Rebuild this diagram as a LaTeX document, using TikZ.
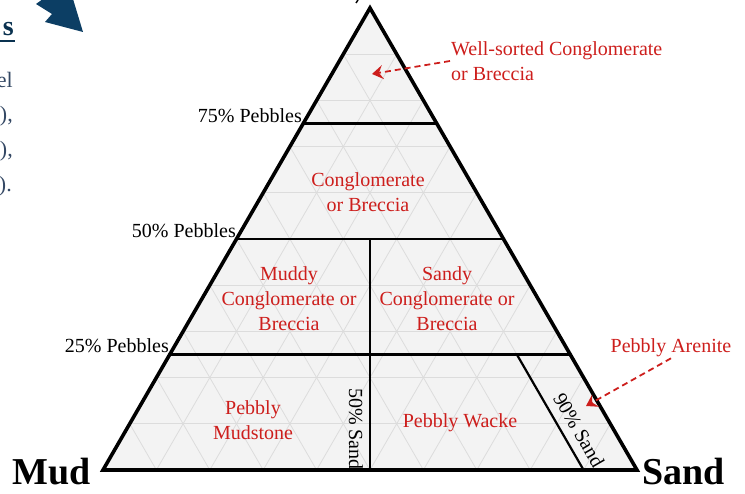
\documentclass[tikz,border=0pt]{standalone}
\usepackage{fontspec}
\setmainfont{Liberation Serif}
\usetikzlibrary{calc,arrows.meta}
\definecolor{redlab}{RGB}{205,30,28}
\definecolor{gridc}{RGB}{220,220,220}
\definecolor{fillc}{RGB}{243,243,243}
\definecolor{navy}{RGB}{12,62,100}
\definecolor{slate}{RGB}{52,72,100}
\begin{document}
\begin{tikzpicture}[x=1pt,y=-1pt,
  gridline/.style={gridc,line width=0.8pt},
  border/.style={black,line width=3.6pt,line join=miter},
  divider/.style={black,line width=2.2pt},
  lab/.style={font=\fontsize{20}{24}\selectfont,inner sep=0pt},
  redlabel/.style={font=\fontsize{20}{25}\selectfont,text=redlab,align=center,inner sep=1pt},
  corner/.style={font=\fontsize{38}{40}\selectfont\bfseries,inner sep=0pt},
  redarrow/.style={redlab,line width=1.8pt,dash pattern=on 6pt off 4pt,-{Stealth[length=11pt,width=14pt,inset=4pt]}},
  frag/.style={font=\fontsize{22}{26}\selectfont,text=slate,inner sep=0pt}]
\useasboundingbox (0,0) rectangle (745,494);
\coordinate (M) at (103,470);
\coordinate (S) at (637,470);
\coordinate (P) at (370,8);
% fill and grid
\fill[fillc] (M) -- (S) -- (P) -- cycle;
\foreach \k in {1,...,9}{
  \draw[gridline] ($(M)!\k/10!(P)$) -- ($(S)!\k/10!(P)$);
  \draw[gridline] ($(M)!\k/10!(S)$) -- ($(P)!\k/10!(S)$);
  \draw[gridline] ($(M)!\k/10!(S)$) -- ($(M)!\k/10!(P)$);
}
% dividers
\coordinate (L75) at ($(M)!0.75!(P)$);
\coordinate (R75) at ($(S)!0.75!(P)$);
\coordinate (L50) at ($(M)!0.5!(P)$);
\coordinate (R50) at ($(S)!0.5!(P)$);
\coordinate (L25) at ($(M)!0.25!(P)$);
\coordinate (R25) at ($(S)!0.25!(P)$);
\coordinate (B50) at ($(M)!0.5!(S)$);
\coordinate (T50) at ($(L50)!0.5!(R50)$);
\coordinate (B90) at ($(M)!0.9!(S)$);
\coordinate (T90) at ($(B90)+0.25*(P)-0.25*(S)$);
\draw[divider] (L75) -- (R75);
\draw[divider] (L50) -- (R50);
\draw[divider] (L25) -- (R25);
\draw[divider] (T50) -- (B50);
\draw[divider] (T90) -- (B90);
\draw[border] (M) -- (S) -- (P) -- cycle;
% axis labels
\node[lab,anchor=base east] (p75) at (302,123) {75\% Pebbles};
\node[lab,anchor=base east] (p50) at (236,238) {50\% Pebbles};
\node[lab,anchor=base east] (p25) at (169,353) {25\% Pebbles};
\node[lab,rotate=-90] (s50) at (356,429) {50\% Sand};
\node[lab,rotate=-60] (s90) at (579,430) {90\% Sand};
\node[corner,anchor=base west] (mud) at (12,485) {Mud};
\node[corner,anchor=base west] (sand) at (642,485) {Sand};
% field labels
\node[redlabel] (cb) at (368,192) {Conglomerate\\or Breccia};
\node[redlabel] (mcb) at (289,299) {Muddy\\Conglomerate or\\Breccia};
\node[redlabel] (scb) at (447,299) {Sandy\\Conglomerate or\\Breccia};
\node[redlabel] (pm) at (253,420) {Pebbly\\Mudstone};
\node[redlabel] (pw) at (460,423) {Pebbly Wacke};
\node[redlabel,align=left,anchor=west] (ws) at (450,61) {Well-sorted Conglomerate\\or Breccia};
\node[redlabel] (pa) at (671,348) {Pebbly Arenite};
\coordinate (tipA) at (372,74);
\coordinate (tipB) at (586,406);
\draw[redarrow] (ws.west) -- (tipA);
\draw[redarrow] (pa.south) -- (tipB);
% cropped fragments at the left edge
\node[frag,font=\fontsize{28}{30}\selectfont\bfseries,text=navy!80!black,anchor=base east] (fs) at (14,36) {s};
\draw[navy!80!black,line width=2pt] (0,41) -- (15,41);
\node[frag,anchor=base east] (fel) at (13,88) {el};
\node[frag,anchor=base east] (f1) at (13,122) {),};
\node[frag,anchor=base east] (f2) at (13,157) {),};
\node[frag,anchor=base east] (f3) at (12,192) {).};
% cropped block arrow
\fill[navy] (43,-1) -- (36,4) -- (52,14) -- (45,22) -- (83,32) -- (73,-1) -- cycle;
% cropped mark above apex
\draw[black,line width=1.5pt] (358,0) -- (356,3);
\end{tikzpicture}
\end{document}
